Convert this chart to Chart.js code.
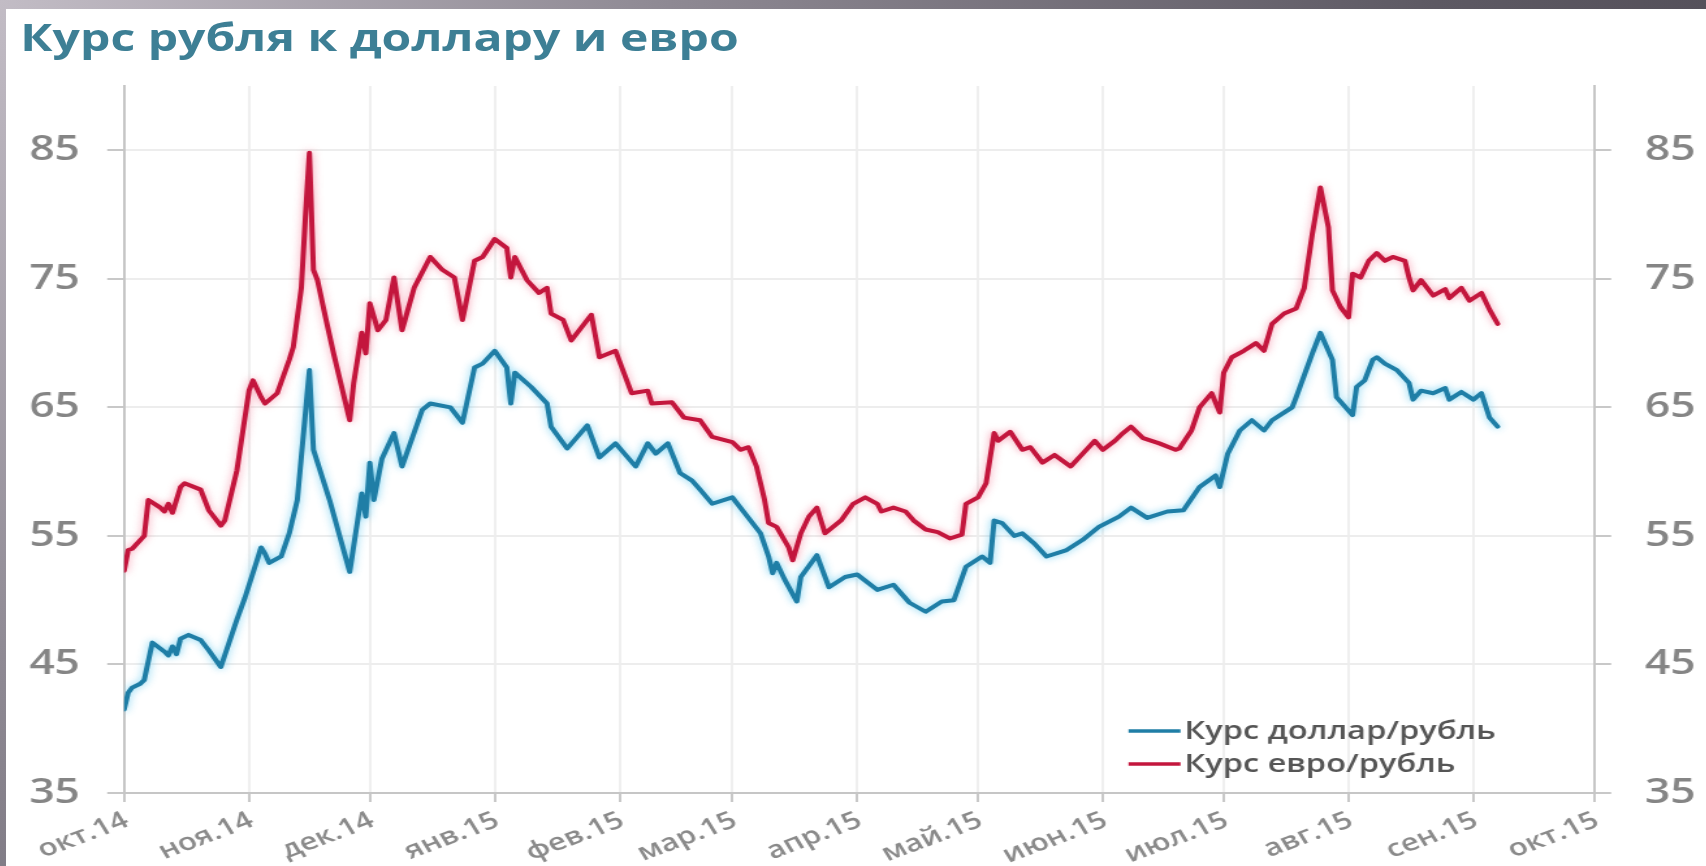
<!DOCTYPE html>
<html lang="ru">
<head>
<meta charset="utf-8">
<title>Курс рубля к доллару и евро</title>
<script src="https://cdn.jsdelivr.net/npm/chart.js@4.4.1/dist/chart.umd.min.js"></script>
<style>
    html, body { margin: 0; padding: 0; }
    body {
        width: 1706px; height: 866px; overflow: hidden; position: relative;
        background: radial-gradient(circle at 0 0, #c2bcc5 0%, #8e8993 35%, #5d5963 75%, #4f4b54 100%);
    }
    .panel { position: absolute; left: 6px; top: 9px; width: 1700px; height: 857px; background: #fff; overflow: hidden; }
    /* the source picture is stretched horizontally, so we draw narrow and scale */
    .stretch { position: absolute; left: 0; top: 0; width: 1307.7px; height: 857px; transform: scaleX(1.3); transform-origin: 0 0; }
    .title { position: absolute; left: 11px; top: 9px; font: 700 37px/1 'Open Sans', sans-serif; color: #3d7f95; white-space: nowrap; }
    .chart-box { position: absolute; left: 0; top: 0; width: 100%; height: 100%; }
</style>
</head>
<body>
<div class="panel">
    <div class="stretch">
        <div class="chart-box"><canvas id="rateChart"></canvas></div>
        <div class="title">Курс рубля к доллару и евро</div>
    </div>
</div>
<script>
// Axis data
const monthLabels = ['окт.14', 'ноя.14', 'дек.14', 'янв.15', 'фев.15', 'мар.15', 'апр.15',
    'май.15', 'июн.15', 'июл.15', 'авг.15', 'сен.15', 'окт.15'];
const monthDays = [0, 31, 61, 92, 123, 151, 182, 212, 243, 273, 304, 335, 365]; // days since 1 Oct 2014
const yTicks = [35, 45, 55, 65, 75, 85];

// USD/RUB (day offset, rate)
const usdDays = [
    0, 1, 2, 4, 5, 7, 10, 11, 12, 13,
    14, 16, 19, 21, 24, 28, 30, 33, 34, 35,
    36, 39, 41, 43, 46, 47, 51, 56, 59, 60,
    61, 62, 64, 67, 69, 74, 76, 81, 84, 87,
    89, 92, 95, 96, 97, 101, 105, 106, 110, 115,
    118, 122, 127, 130, 132, 135, 138, 141, 143, 146,
    151, 154, 158, 160, 161, 162, 164, 167, 168, 172,
    175, 179, 182, 187, 191, 195, 199, 203, 206, 209,
    213, 215, 216, 218, 221, 223, 226, 229, 234, 238,
    242, 247, 250, 254, 259, 263, 267, 271, 272, 274,
    277, 280, 283, 285, 290, 291, 295, 297, 300, 301,
    305, 306, 308, 310, 311, 313, 316, 319, 320, 322,
    325, 328, 329, 332, 335, 337, 339, 341
];
const usdRate = [
    41.5, 42.8, 43.2, 43.5, 43.8, 46.7, 46.0, 45.7, 46.4, 45.8,
    47.0, 47.3, 46.9, 46.1, 44.8, 48.5, 50.2, 53.1, 54.1, 53.6,
    52.9, 53.4, 55.2, 57.8, 67.9, 61.7, 57.8, 52.2, 58.3, 56.5,
    60.7, 57.8, 61.0, 63.0, 60.4, 64.8, 65.3, 65.0, 63.8, 68.1,
    68.4, 69.4, 68.1, 65.3, 67.7, 66.6, 65.3, 63.5, 61.8, 63.6,
    61.1, 62.2, 60.4, 62.2, 61.4, 62.2, 59.9, 59.3, 58.6, 57.5,
    58.0, 56.8, 55.2, 53.4, 52.1, 52.9, 51.6, 49.9, 51.8, 53.5,
    51.0, 51.8, 52.0, 50.8, 51.2, 49.8, 49.1, 49.9, 50.0, 52.6,
    53.4, 52.9, 56.2, 56.0, 55.0, 55.2, 54.4, 53.4, 53.9, 54.7,
    55.7, 56.5, 57.2, 56.4, 56.9, 57.0, 58.8, 59.7, 58.8, 61.4,
    63.2, 64.0, 63.2, 64.0, 65.0, 65.8, 69.2, 70.8, 68.7, 65.8,
    64.4, 66.6, 67.1, 68.7, 68.9, 68.4, 67.9, 66.9, 65.6, 66.3,
    66.1, 66.5, 65.6, 66.2, 65.6, 66.1, 64.2, 63.5
];

// EUR/RUB (day offset, rate)
const eurDays = [
    0, 1, 2, 5, 6, 9, 10, 11, 12, 14,
    15, 19, 21, 24, 25, 28, 31, 32, 34, 35,
    38, 41, 42, 44, 45, 46, 47, 48, 50, 52,
    56, 57, 59, 60, 61, 63, 65, 67, 69, 72,
    76, 79, 82, 84, 87, 89, 92, 95, 96, 97,
    100, 103, 105, 106, 109, 111, 116, 118, 122, 126,
    130, 131, 136, 139, 143, 146, 151, 153, 155, 157,
    159, 160, 162, 165, 166, 168, 170, 172, 174, 178,
    181, 184, 187, 188, 191, 194, 196, 199, 202, 205,
    208, 209, 212, 214, 216, 217, 220, 223, 225, 228,
    231, 235, 238, 241, 243, 246, 248, 250, 253, 257,
    261, 262, 265, 267, 270, 272, 273, 275, 278, 281,
    283, 285, 288, 291, 293, 295, 297, 299, 300, 302,
    304, 305, 307, 309, 311, 313, 315, 318, 319, 320,
    322, 325, 328, 329, 332, 334, 337, 339, 341
];
const eurRate = [
    52.3, 53.9, 54.0, 55.0, 57.8, 57.2, 56.9, 57.5, 56.8, 58.8,
    59.1, 58.6, 57.0, 55.8, 56.2, 60.1, 66.3, 67.1, 65.8, 65.3,
    66.1, 68.7, 69.7, 74.3, 79.8, 84.8, 75.7, 74.9, 72.0, 69.2,
    64.0, 66.9, 70.8, 69.2, 73.1, 71.0, 71.8, 75.1, 71.0, 74.3,
    76.7, 75.7, 75.1, 71.8, 76.4, 76.7, 78.1, 77.4, 75.1, 76.7,
    74.9, 73.9, 74.3, 72.3, 71.8, 70.2, 72.2, 68.9, 69.4, 66.1,
    66.3, 65.3, 65.4, 64.2, 64.0, 62.7, 62.3, 61.7, 61.9, 60.4,
    57.8, 56.0, 55.7, 54.1, 53.1, 55.2, 56.5, 57.2, 55.2, 56.2,
    57.5, 58.0, 57.5, 56.9, 57.2, 56.9, 56.2, 55.5, 55.3, 54.8,
    55.1, 57.5, 58.0, 59.1, 63.0, 62.4, 63.1, 61.7, 61.9, 60.7,
    61.3, 60.4, 61.4, 62.4, 61.7, 62.4, 63.0, 63.5, 62.6, 62.2,
    61.7, 61.8, 63.2, 65.0, 66.1, 64.6, 67.7, 68.9, 69.4, 70.0,
    69.4, 71.5, 72.3, 72.7, 74.3, 78.5, 82.1, 79.0, 74.1, 72.8,
    72.0, 75.4, 75.1, 76.4, 77.0, 76.4, 76.7, 76.4, 75.1, 74.1,
    74.9, 73.7, 74.2, 73.5, 74.3, 73.3, 73.9, 72.6, 71.5
];

const lineColors = ['#1f7ea6', '#c3163d'];
const glowColors = ['rgba(110, 205, 240, 0.9)', 'rgba(245, 130, 155, 0.8)'];
const labelAngle = 26; // degrees, before the horizontal stretch

function toPoints(days, rates) {
    return days.map((d, i) => ({ x: d, y: rates[i] }));
}

// soft halo around the lines, like in the source picture
const glowPlugin = {
    id: 'glow',
    beforeDatasetDraw(chart, args) {
        const ctx = chart.ctx;
        ctx.save();
        ctx.shadowColor = glowColors[args.index];
        ctx.shadowBlur = 7;
    },
    afterDatasetDraw(chart) {
        chart.ctx.restore();
    }
};

// rotated month labels under the x axis
const monthLabelPlugin = {
    id: 'monthLabels',
    afterDraw(chart) {
        const { ctx, chartArea } = chart;
        const xScale = chart.scales.x;
        ctx.save();
        ctx.font = '600 24px "Open Sans"';
        ctx.fillStyle = '#8a8a8a';
        ctx.textAlign = 'right';
        ctx.textBaseline = 'middle';
        monthDays.forEach((d, i) => {
            ctx.save();
            ctx.translate(xScale.getPixelForValue(d) + 2, chartArea.bottom + 26);
            ctx.rotate(-labelAngle * Math.PI / 180);
            ctx.fillText(monthLabels[i], 0, 0);
            ctx.restore();
        });
        ctx.restore();
    }
};

// legend drawn inside the plot, bottom right
const insideLegend = {
    id: 'insideLegend',
    afterDraw(chart) {
        const { ctx, chartArea } = chart;
        const x0 = chartArea.right - 358;
        ctx.save();
        ctx.font = '600 25px "Open Sans"';
        ctx.textBaseline = 'middle';
        chart.data.datasets.forEach((ds, i) => {
            const y = chartArea.bottom - 62 + i * 33;
            ctx.strokeStyle = ds.borderColor;
            ctx.lineWidth = 3.5;
            ctx.beginPath();
            ctx.moveTo(x0, y);
            ctx.lineTo(x0 + 40, y);
            ctx.stroke();
            ctx.fillStyle = '#555555';
            ctx.fillText(ds.label, x0 + 43, y + 1);
        });
        ctx.restore();
    }
};

function yAxis(position, width, pad) {
    return {
        type: 'linear',
        position: position,
        min: 35,
        max: 90,
        afterBuildTicks: scale => { scale.ticks = yTicks.map(v => ({ value: v })); },
        afterFit: scale => { scale.width = width; },
        ticks: { color: '#858585', font: { size: 34, weight: '600' }, padding: pad },
        grid: {
            color: '#ededed', lineWidth: 2, tickLength: 13, tickColor: '#c8c8c8',
            drawOnChartArea: position === 'left'
        },
        border: { color: '#c6c6c6', width: 2 }
    };
}

Chart.defaults.font.family = "'Open Sans', sans-serif";

new Chart(document.getElementById('rateChart'), {
    type: 'line',
    data: {
        datasets: [
            {
                label: 'Курс доллар/рубль',
                data: toPoints(usdDays, usdRate),
                borderColor: lineColors[0],
                borderWidth: 4,
                yAxisID: 'y'
            },
            {
                label: 'Курс евро/рубль',
                data: toPoints(eurDays, eurRate),
                borderColor: lineColors[1],
                borderWidth: 4,
                yAxisID: 'y'
            }
        ]
    },
    options: {
        responsive: true,
        maintainAspectRatio: false,
        animation: false,
        parsing: false,
        layout: { padding: { top: 77, left: 0, right: 0, bottom: 0 } },
        elements: {
            point: { radius: 0 },
            line: { tension: 0, borderJoinStyle: 'round', borderCapStyle: 'round' }
        },
        plugins: {
            legend: { display: false },
            tooltip: { enabled: false }
        },
        scales: {
            x: {
                type: 'linear',
                min: 0,
                max: 365,
                afterBuildTicks: scale => { scale.ticks = monthDays.map(v => ({ value: v })); },
                afterFit: scale => { scale.height = 73; },
                ticks: { display: false },
                grid: { color: '#efefef', lineWidth: 2, tickLength: 9, tickColor: '#c8c8c8' },
                border: { color: '#c6c6c6', width: 2 }
            },
            y: yAxis('left', 90.8, 21),
            y2: yAxis('right', 86.9, 26)
        }
    },
    plugins: [glowPlugin, monthLabelPlugin, insideLegend]
});
</script>
</body>
</html>
